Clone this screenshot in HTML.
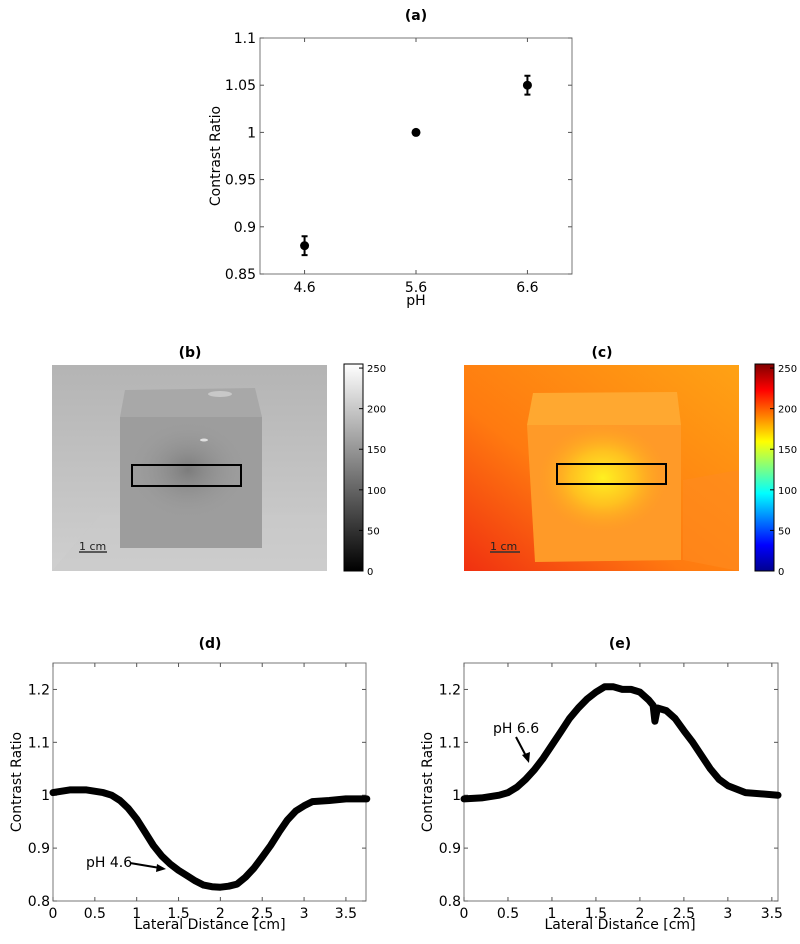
<!DOCTYPE html>
<html><head><meta charset="utf-8"><style>
html,body{margin:0;padding:0;background:#fff;}
svg{display:block;font-family:"DejaVu Sans","Liberation Sans",sans-serif;}
</style></head><body>
<svg id="fig" width="800" height="944" viewBox="0 0 800 944">
<defs>
<linearGradient id="grayBar" x1="0" y1="1" x2="0" y2="0"><stop offset="0" stop-color="#000"/><stop offset="1" stop-color="#fff"/></linearGradient>
<linearGradient id="jetBar" x1="0" y1="1" x2="0" y2="0">
<stop offset="0" stop-color="#00008f"/><stop offset="0.125" stop-color="#0000ff"/><stop offset="0.375" stop-color="#00ffff"/><stop offset="0.625" stop-color="#ffff00"/><stop offset="0.875" stop-color="#ff0000"/><stop offset="1" stop-color="#800000"/></linearGradient>
<radialGradient id="grayCenter" cx="0.5" cy="0.5" r="0.5"><stop offset="0" stop-color="#7c7c7c"/><stop offset="1" stop-color="#9c9c9c" stop-opacity="0"/></radialGradient>
<linearGradient id="grayBg" x1="0" y1="0" x2="0" y2="1"><stop offset="0" stop-color="#b4b4b4"/><stop offset="1" stop-color="#cfcfcf"/></linearGradient>
<linearGradient id="colBg" x1="1" y1="0" x2="0" y2="1"><stop offset="0" stop-color="#ffa214"/><stop offset="0.6" stop-color="#ff7a10"/><stop offset="1" stop-color="#f03010"/></linearGradient>
<radialGradient id="colCenter" cx="0.5" cy="0.5" r="0.5"><stop offset="0" stop-color="#fff020"/><stop offset="0.5" stop-color="#ffc020"/><stop offset="1" stop-color="#ffa020" stop-opacity="0"/></radialGradient>
</defs>

<g id="panelA">
<text x="416" y="20" text-anchor="middle" font-weight="bold" font-size="14">(a)</text>
<rect x="260" y="38" width="312" height="236" fill="none" stroke="#777" stroke-width="1"/>
<g id="aTicks"></g>
<text transform="translate(220,156) rotate(-90)" text-anchor="middle" font-size="14">Contrast Ratio</text>
<text x="416" y="305" text-anchor="middle" font-size="14">pH</text>
<g id="aMarks"></g>
</g>

<g>
<text x="190" y="357" text-anchor="middle" font-weight="bold" font-size="14">(b)</text>
<rect x="52" y="365" width="275" height="206" fill="url(#grayBg)"/>
<polygon points="52,571 100,515 327,515 327,571" fill="#c9c9c9" opacity="0.5"/>
<polygon points="125,390 255,388 262,417 120,417" fill="#a8a8a8"/>
<rect x="120" y="417" width="142" height="131" fill="#9d9d9d"/>
<ellipse cx="188" cy="470" rx="60" ry="50" fill="url(#grayCenter)"/>
<ellipse cx="220" cy="394" rx="12" ry="3" fill="#c8c8c8"/>
<ellipse cx="204" cy="440" rx="4" ry="1.5" fill="#e0e0e0"/>
<rect x="132" y="465" width="109" height="21" fill="none" stroke="#000" stroke-width="2"/>
<text x="79" y="550" font-size="11" fill="#222">1 cm</text>
<line x1="79" y1="552" x2="107" y2="552" stroke="#333" stroke-width="1.5"/>
<rect x="344" y="364" width="19" height="207" fill="url(#grayBar)" stroke="#000" stroke-width="1"/>
<g id="bBarTicks"></g>
</g>

<g>
<text x="602" y="357" text-anchor="middle" font-weight="bold" font-size="14">(c)</text>
<rect x="464" y="365" width="275" height="206" fill="url(#colBg)"/>
<polygon points="533,393 677,392 681,425 527,425" fill="#ffa830"/>
<polygon points="527,425 681,425 681,560 535,562" fill="#ff9a28"/>
<ellipse cx="603" cy="478" rx="65" ry="55" fill="url(#colCenter)"/>
<polygon points="683,480 739,470 739,571 683,560" fill="#ff8a20" opacity="0.6"/>
<rect x="557" y="464" width="109" height="20" fill="none" stroke="#000" stroke-width="2"/>
<text x="490" y="550" font-size="11" fill="#222">1 cm</text>
<line x1="490" y1="552" x2="520" y2="552" stroke="#333" stroke-width="1.5"/>
<rect x="755" y="364" width="19" height="207" fill="url(#jetBar)" stroke="#000" stroke-width="1"/>
<g id="cBarTicks"></g>
</g>

<g>
<text x="210" y="648" text-anchor="middle" font-weight="bold" font-size="14">(d)</text>
<rect x="53" y="663" width="313" height="238" fill="none" stroke="#777"/>
<g id="dTicks"></g><g id="dLine"></g>
<text transform="translate(21,782) rotate(-90)" text-anchor="middle" font-size="14">Contrast Ratio</text>
<text x="210" y="929" text-anchor="middle" font-size="14">Lateral Distance [cm]</text>
<text x="86" y="867" font-size="14">pH 4.6</text>
<line x1="130" y1="863" x2="160" y2="868" stroke="#000" stroke-width="2"/>
<polygon points="166,869 157,864 156,872" fill="#000"/>
</g>

<g>
<text x="620" y="648" text-anchor="middle" font-weight="bold" font-size="14">(e)</text>
<rect x="464" y="663" width="314" height="238" fill="none" stroke="#777"/>
<g id="eTicks"></g><g id="eLine"></g>
<text transform="translate(432,782) rotate(-90)" text-anchor="middle" font-size="14">Contrast Ratio</text>
<text x="620" y="929" text-anchor="middle" font-size="14">Lateral Distance [cm]</text>
<text x="493" y="733" font-size="14">pH 6.6</text>
<line x1="516" y1="737" x2="526" y2="756" stroke="#000" stroke-width="2"/>
<polygon points="529,763 522,755 530,752" fill="#000"/>
</g>
</svg>
<script>
var NS="http://www.w3.org/2000/svg";
var aPH=[4.6,5.6,6.6];
var aRatio=[0.88,1.0,1.05];
var aErr=[0.01,0,0.01];
var aXTicks=[4.6,5.6,6.6];
var aYTicks=[0.85,0.9,0.95,1,1.05,1.1];
var dX=[0,0.2,0.4,0.6,0.7,0.8,0.9,1.0,1.1,1.2,1.3,1.4,1.5,1.6,1.7,1.8,1.9,2.0,2.1,2.2,2.3,2.4,2.5,2.6,2.7,2.8,2.9,3.0,3.1,3.3,3.5,3.75];
var dY=[1.005,1.01,1.01,1.005,1.0,0.99,0.975,0.955,0.93,0.905,0.885,0.87,0.858,0.848,0.838,0.83,0.827,0.826,0.828,0.832,0.845,0.862,0.883,0.905,0.93,0.953,0.97,0.98,0.988,0.99,0.993,0.993];
var eX=[0,0.2,0.4,0.5,0.6,0.7,0.8,0.9,1.0,1.1,1.2,1.3,1.4,1.5,1.6,1.7,1.8,1.9,2.0,2.1,2.15,2.17,2.2,2.3,2.4,2.5,2.6,2.7,2.8,2.9,3.0,3.2,3.57];
var eY=[0.993,0.995,1.0,1.005,1.015,1.03,1.048,1.07,1.095,1.12,1.145,1.165,1.182,1.195,1.205,1.205,1.2,1.2,1.195,1.18,1.17,1.14,1.165,1.16,1.145,1.122,1.1,1.075,1.05,1.03,1.018,1.005,1.0];
var lineXTicksD=[0,0.5,1,1.5,2,2.5,3,3.5];
var lineYTicks=[0.8,0.9,1,1.1,1.2];
var lineYTickLabels=["0.8","0.9","1","1.1","1.2"];
var barTicks=[0,50,100,150,200,250];

function el(tag,attrs,parent,txt){var e=document.createElementNS(NS,tag);for(var k in attrs)e.setAttribute(k,attrs[k]);if(txt!==undefined)e.textContent=txt;parent.appendChild(e);return e;}
function scale(d0,d1,r0,r1){return function(v){return r0+(v-d0)/(d1-d0)*(r1-r0);};}

var ax=scale(4.2,7.0,260,572), ay=scale(0.85,1.1,274,38);
var g=document.getElementById('aTicks');
aXTicks.forEach(function(t){
  el('line',{x1:ax(t),x2:ax(t),y1:274,y2:270,stroke:'#555'},g);el('line',{x1:ax(t),x2:ax(t),y1:38,y2:42,stroke:'#555'},g);
  var tx=el('text',{x:ax(t),y:292,'text-anchor':'middle','font-size':14},g,t.toFixed(1));
  
  
});
aYTicks.forEach(function(t){
  el('line',{x1:260,x2:264,y1:ay(t),y2:ay(t),stroke:'#555'},g);el('line',{x1:572,x2:568,y1:ay(t),y2:ay(t),stroke:'#555'},g);
  var tx=el('text',{x:256,y:ay(t)+5,'text-anchor':'end','font-size':14},g,String(t));
  
  
});
var m=document.getElementById('aMarks');
aPH.forEach(function(p,i){
  if(aErr[i]>0){
    var eb=el('path',{d:'M'+ax(p)+' '+ay(aRatio[i]-aErr[i])+'V'+ay(aRatio[i]+aErr[i])+'M'+(ax(p)-3)+' '+ay(aRatio[i]-aErr[i])+'h6M'+(ax(p)-3)+' '+ay(aRatio[i]+aErr[i])+'h6',stroke:'#000','stroke-width':2,fill:'none'},m);
    
    
  }
  var c=el('circle',{cx:ax(p),cy:ay(aRatio[i]),r:4.5,fill:'#000'},m);
  
  
});

function barT(id,x0){var gg=document.getElementById(id);var by=scale(0,255,571,364);
  barTicks.forEach(function(t){el('line',{x1:x0+19,x2:x0+15,y1:by(t),y2:by(t),stroke:'#000'},gg);
    var tx=el('text',{x:x0+23,y:by(t)+4,'font-size':10},gg,String(t));
    
    });}
barT('bBarTicks',344);barT('cBarTicks',755);

function linePanel(tid,lid,xs,ys,x0,x1,px0,px1,name){
  var sx=scale(x0,x1,px0,px1), sy=scale(0.8,1.25,901,663);
  var gg=document.getElementById(tid);
  lineXTicksD.forEach(function(t){ if(t>x1)return;
    el('line',{x1:sx(t),x2:sx(t),y1:901,y2:897,stroke:'#555'},gg);el('line',{x1:sx(t),x2:sx(t),y1:663,y2:667,stroke:'#555'},gg);
    var tx=el('text',{x:sx(t),y:918,'text-anchor':'middle','font-size':14},gg,String(t));
    
    });
  lineYTicks.forEach(function(t,i){
    el('line',{x1:px0,x2:px0+4,y1:sy(t),y2:sy(t),stroke:'#555'},gg);el('line',{x1:px1,x2:px1-4,y1:sy(t),y2:sy(t),stroke:'#555'},gg);
    var tx=el('text',{x:px0-3,y:sy(t)+5,'text-anchor':'end','font-size':14},gg,lineYTickLabels[i]);
    
    });
  var d='';xs.forEach(function(x,i){d+=(i?'L':'M')+sx(x).toFixed(1)+' '+sy(ys[i]).toFixed(1);});
  var p=el('path',{d:d,fill:'none',stroke:'#000','stroke-width':7,'stroke-linejoin':'round','stroke-linecap':'round'},document.getElementById(lid));
  
  
}
linePanel('dTicks','dLine',dX,dY,0,3.74,53,366,'panel-d');
linePanel('eTicks','eLine',eX,eY,0,3.57,464,778,'panel-e');
</script>
</body></html>
